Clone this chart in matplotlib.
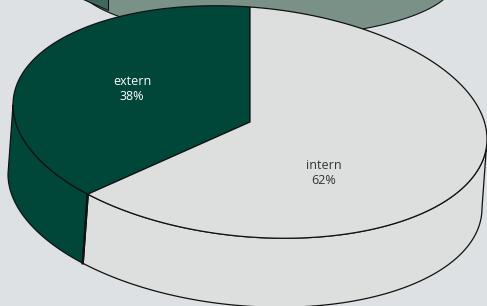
import numpy as np
import matplotlib
matplotlib.use("Agg")
import matplotlib.pyplot as plt
from matplotlib.patches import Polygon

# ---- data ----
categories = ["extern", "intern"]
shares = [38, 62]
slice_colors = ["#00473a", "#dcdfdd"]
text_colors = ["#ffffff", "#333333"]

# ---- layout (pixel space) ----
W, H = 487, 306
BG = "#dde1e4"
cx, cy = 250, 122          # centre of pie top
A, B, K = 237, 115, 17     # half width, half height, tilt shear
DX, DY = -5, 69            # depth of the 3D side
start_deg = 90             # first slice starts at top, runs counter-clockwise
label_anchor = [(132, 89), (324, 173)]

fig = plt.figure(figsize=(W / 100, H / 100), dpi=100)
fig.patch.set_facecolor(BG)
ax = fig.add_axes([0, 0, 1, 1])
ax.set_xlim(0, W)
ax.set_ylim(H, 0)
ax.axis("off")
ax.set_facecolor(BG)


def top_pt(t):
    t = np.radians(t)
    return cx + A * np.cos(t), cy - B * np.sin(t) + K * np.cos(t)


def arc(t1, t2, n=200, shift=(0, 0)):
    ts = np.linspace(t1, t2, n)
    xs, ys = top_pt(ts)
    return np.column_stack([xs + shift[0], ys + shift[1]])


# ---- partially visible pie behind (cut off at top) ----
bcx, bcy, ba, bb = 265, -20, 190, 57
tt = np.linspace(np.pi, 2 * np.pi, 200)
back = np.column_stack([bcx + ba * np.cos(tt), bcy - bb * np.sin(tt)])
ax.add_patch(Polygon(back, closed=True, fc="#7a9188", ec="#111111", lw=0.8, zorder=1))
ax.add_patch(Polygon([(83, -1), (108, -1), (108, 10)], closed=True,
                     fc="#41685c", ec="#111111", lw=0.8, zorder=1.5))

# slice angle ranges
angles = []
a0 = start_deg
for s in shares:
    a1 = a0 + s / sum(shares) * 360
    angles.append((a0, a1))
    a0 = a1

# ---- sides (only front half, 180..360 deg) ----
for (t1, t2), col in zip(angles, slice_colors):
    lo, hi = max(t1, 180), min(t2, 360)
    if hi > lo:
        top = arc(lo, hi)
        bot = arc(hi, lo, shift=(DX, DY))
        ax.add_patch(Polygon(np.vstack([top, bot]), closed=True, fc=col,
                             ec="#111111", lw=0.9, zorder=2, joinstyle="round"))

# vertical slice edges on the side
for (t1, t2) in angles:
    for t in (t1, t2):
        tm = t % 360
        if 180 < tm < 360:
            x, y = top_pt(tm)
            ax.plot([x, x + DX], [y, y + DY], color="#111111", lw=1.6, zorder=3)

# ---- top faces ----
for (t1, t2), col in zip(angles, slice_colors):
    pts = np.vstack([[cx, cy], arc(t1, t2)])
    ax.add_patch(Polygon(pts, closed=True, fc=col, ec="#111111", lw=0.9,
                         zorder=4, joinstyle="miter"))

# ---- labels ----
for cat, s, (lx, ly), tc in zip(categories, shares, label_anchor, text_colors):
    ax.text(lx, ly, f"{cat}\n{s}%", ha="center", va="center", color=tc,
            fontsize=9.0, family=["Open Sans", "DejaVu Sans"], linespacing=1.2,
            zorder=5)

fig.savefig("out.png", dpi=100, facecolor=BG)
